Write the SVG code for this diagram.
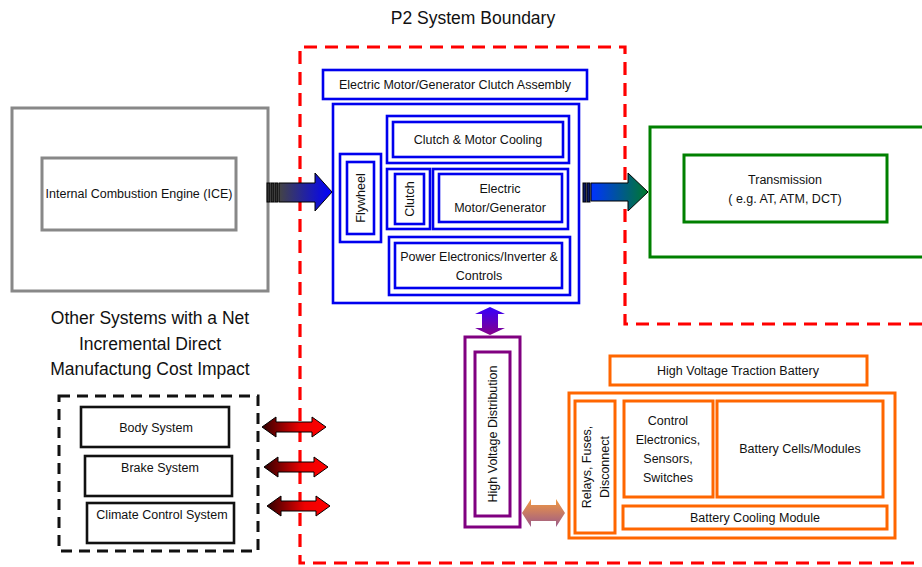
<svg xmlns="http://www.w3.org/2000/svg" width="922" height="567" viewBox="0 0 922 567">
<style>
text{font-family:"Liberation Sans",Arial,sans-serif;fill:#111;text-anchor:middle}
.t{font-size:12.5px}
.big{font-size:17.5px}
.b{fill:#fff;stroke:#0000ee;stroke-width:2.6}
.g{fill:#fff;stroke:#888;stroke-width:3}
.gr{fill:#fff;stroke:#008000;stroke-width:3}
.k{fill:#fff;stroke:#111;stroke-width:2.6}
.p{fill:#fff;stroke:#800080;stroke-width:3}
.o{fill:#fff;stroke:#ff6600;stroke-width:3}
</style>
<defs>
<linearGradient id="gL" x1="0" y1="0" x2="1" y2="0"><stop offset="0" stop-color="#444"/><stop offset="1" stop-color="#0000ff"/></linearGradient>
<linearGradient id="gR" x1="0" y1="0" x2="1" y2="0"><stop offset="0" stop-color="#0033ff"/><stop offset="1" stop-color="#007a2a"/></linearGradient>
<linearGradient id="gRed" x1="0" y1="0" x2="1" y2="0"><stop offset="0" stop-color="#300000"/><stop offset="0.6" stop-color="#ee0000"/><stop offset="1" stop-color="#ff0000"/></linearGradient>
<linearGradient id="gP" x1="0" y1="0" x2="0" y2="1"><stop offset="0" stop-color="#3300ff"/><stop offset="1" stop-color="#880088"/></linearGradient>
<linearGradient id="gO" x1="0" y1="0" x2="0" y2="1"><stop offset="0" stop-color="#f39a40"/><stop offset="1" stop-color="#9a5a8a"/></linearGradient>
</defs>
<rect width="922" height="567" fill="#fff"/>

<g id="boundary">
<path d="M922,324 H625 V47 H300 V563 H922" fill="none" stroke="#ff0000" stroke-width="3.2" stroke-dasharray="13,8"/>
<text class="big" x="473" y="24">P2 System Boundary</text>
</g>

<g id="ice">
<rect class="g" x="12" y="108" width="256" height="183"/>
<rect class="g" x="42" y="158" width="194" height="72"/>
<text class="t" x="139" y="198">Internal Combustion Engine (ICE)</text>
</g>

<g id="assembly-label">
<rect class="b" x="323" y="70" width="264" height="29"/>
<text class="t" x="455" y="89">Electric Motor/Generator Clutch Assembly</text>
</g>

<g id="assembly">
<rect class="b" x="333" y="104" width="246" height="199"/>
</g>
<g id="cooling">
<rect class="b" x="387" y="116" width="182" height="47"/>
<rect class="b" x="393" y="122" width="170" height="35"/>
<text class="t" x="478" y="144">Clutch &amp; Motor Cooling</text>
</g>
<g id="flywheel">
<rect class="b" x="340" y="154" width="41" height="88"/>
<rect class="b" x="347" y="162" width="27" height="72"/>
<text class="t" transform="translate(365,198) rotate(-90)">Flywheel</text>
</g>
<g id="clutch">
<rect class="b" x="387" y="169" width="43" height="60"/>
<rect class="b" x="395" y="174" width="29" height="50"/>
<text class="t" transform="translate(414,199) rotate(-90)">Clutch</text>
</g>
<g id="motor">
<rect class="b" x="433" y="169" width="135" height="60"/>
<rect class="b" x="439" y="174" width="123" height="48"/>
<text class="t" x="500" y="193">Electric</text>
<text class="t" x="500" y="212">Motor/Generator</text>
</g>
<g id="power">
<rect class="b" x="389" y="237" width="181" height="58"/>
<rect class="b" x="395" y="243" width="167" height="45"/>
<text class="t" x="479" y="261">Power Electronics/Inverter &amp;</text>
<text class="t" x="479" y="280">Controls</text>
</g>

<g id="transmission">
<rect class="gr" x="650" y="127" width="285" height="130"/>
<rect class="gr" x="684" y="155" width="203" height="67"/>
<text class="t" x="785" y="184">Transmission</text>
<text class="t" x="785" y="203">( e.g. AT, ATM, DCT)</text>
</g>

<g id="other-title">
<text class="big" x="150" y="324">Other Systems with a Net</text>
<text class="big" x="150" y="350">Incremental Direct</text>
<text class="big" x="150" y="375">Manufactung Cost Impact</text>
</g>
<g id="other-systems">
<rect x="59" y="396" width="199" height="155" fill="none" stroke="#111" stroke-width="3" stroke-dasharray="11,7"/>
</g>
<g id="body">
<rect class="k" x="81" y="407" width="148" height="40"/>
<text class="t" x="156" y="432">Body System</text>
</g>
<g id="brake">
<rect class="k" x="85" y="456" width="147" height="40"/>
<text class="t" x="160" y="472">Brake System</text>
</g>
<g id="climate">
<rect class="k" x="87" y="503" width="147" height="40"/>
<text class="t" x="162" y="519">Climate Control System</text>
</g>

<g id="hvd">
<rect class="p" x="465" y="337" width="55" height="190"/>
<rect class="p" x="475" y="352" width="35" height="164"/>
<text class="t" transform="translate(497,434) rotate(-90)">High Voltage Distribution</text>
</g>

<g id="battery-label">
<rect class="o" x="610" y="356" width="257" height="29"/>
<text class="t" x="738" y="375">High Voltage Traction Battery</text>
</g>
<g id="battery">
<rect class="o" x="569" y="393" width="326" height="145"/>
</g>
<g id="relays">
<rect class="o" x="575" y="401" width="40" height="132"/>
<text class="t" transform="translate(591,467) rotate(-90)">Relays, Fuses,</text>
<text class="t" transform="translate(609,467) rotate(-90)">Disconnect</text>
</g>
<g id="control">
<rect class="o" x="624" y="401" width="89" height="96"/>
<text class="t" x="668" y="425">Control</text>
<text class="t" x="668" y="444">Electronics,</text>
<text class="t" x="668" y="463">Sensors,</text>
<text class="t" x="668" y="482">Switches</text>
</g>
<g id="cells">
<rect class="o" x="717" y="401" width="166" height="96"/>
<text class="t" x="800" y="453">Battery Cells/Modules</text>
</g>
<g id="bcool">
<rect class="o" x="623" y="506" width="264" height="23"/>
<text class="t" x="755" y="522">Battery Cooling Module</text>
</g>

<g id="connectors" stroke="#000" stroke-width="1">
<rect x="267" y="183" width="3" height="19" fill="#333"/>
<rect x="271" y="183" width="3" height="19" fill="#333"/>
<rect x="275" y="183" width="3" height="19" fill="#333"/>
<path d="M279,183 H315 V173 L332,192 L315,211 V202 H279 Z" fill="url(#gL)"/>
<rect x="583" y="183" width="3" height="19" fill="#0a1a66"/>
<rect x="587" y="183" width="3" height="19" fill="#0a1a66"/>
<path d="M591,183 H628 V173 L648,192 L628,211 V201 H591 Z" fill="url(#gR)"/>
<path d="M262,427 L276,417 V422 H312 V417 L326,427 L312,437 V432 H276 V437 Z" fill="url(#gRed)"/>
<path d="M264,467 L278,457 V462 H314 V457 L328,467 L314,477 V472 H278 V477 Z" fill="url(#gRed)"/>
<path d="M267,506 L281,496 V501 H316 V496 L330,506 L316,516 V511 H281 V516 Z" fill="url(#gRed)"/>
<path d="M490,307 L505,314 H498 V328 H505 L490,335 L475,328 H482 V314 H475 Z" fill="url(#gP)" stroke="none"/>
<path d="M522,513 L531,499 V505 H556 V499 L565,513 L556,527 V521 H531 V527 Z" fill="url(#gO)" stroke="none"/>
</g>
</svg>
